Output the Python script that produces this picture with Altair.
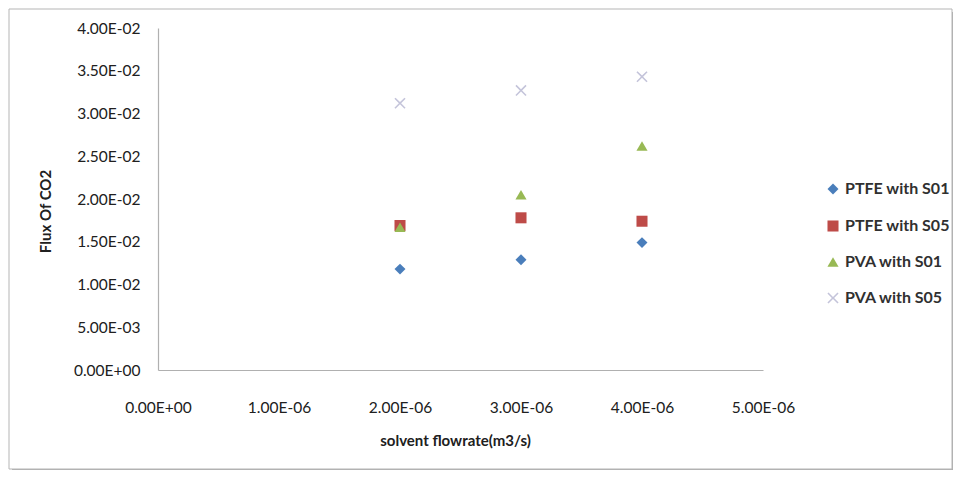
import altair as alt
import pandas as pd

# ---- data ----
flowrate = [2.0e-6, 3.0e-6, 4.0e-6]
series_names = ["PTFE with S01", "PTFE with S05", "PVA with S01", "PVA with S05"]
ptfe_s01 = [0.0118, 0.0129, 0.0149]
ptfe_s05 = [0.0169, 0.0178, 0.0174]
pva_s01 = [0.0167, 0.0205, 0.0262]
pva_s05 = [0.0312, 0.0327, 0.0343]

x_ticks = [0, 1e-6, 2e-6, 3e-6, 4e-6, 5e-6]
y_ticks = [0, 0.005, 0.01, 0.015, 0.02, 0.025, 0.03, 0.035, 0.04]

colors = ["#4A7EBB", "#BE4B48", "#98B954", "#C4C4DA"]
x_shape = "M-1,-0.8L-0.8,-1L0,-0.2L0.8,-1L1,-0.8L0.2,0L1,0.8L0.8,1L0,0.2L-0.8,1L-1,0.8L-0.2,0Z"
shapes = ["diamond", "square", "triangle-up", x_shape]
sizes = [120, 125, 150, 150]

rows = []
for name, vals in zip(series_names, [ptfe_s01, ptfe_s05, pva_s01, pva_s05]):
    for xv, yv in zip(flowrate, vals):
        rows.append({"flow": xv, "flux": yv, "series": name, "order": series_names.index(name)})
df = pd.DataFrame(rows)

sci = "replace(replace(upper(format(datum.value,'.2e')),'E-','E-0'),'E+','E+0')"
FONT = "Liberation Sans Narrow, Lato, sans-serif"

W, H = 605, 342

frame_df = pd.DataFrame({"k": [0]})
shadow = alt.Chart(frame_df).mark_rect(fill="#9a9a9a", opacity=0.8).encode(
    x=alt.value(-146), x2=alt.value(797), y=alt.value(-16), y2=alt.value(444)
)
frame = alt.Chart(frame_df).mark_rect(fill="white", stroke="#b5b5b5", strokeWidth=1).encode(
    x=alt.value(-149), x2=alt.value(794), y=alt.value(-19), y2=alt.value(441)
)

points = alt.Chart(df).mark_point(filled=True, opacity=1).encode(
    x=alt.X("flow:Q", scale=alt.Scale(domain=[0, 5e-6], nice=False),
            axis=alt.Axis(values=x_ticks, labelExpr=sci, title="solvent flowrate(m3/s)",
                          titleX=297, titleY=70, titleBaseline="middle", labelPadding=30,
                          labelFlush=False, zindex=1)),
    y=alt.Y("flux:Q", scale=alt.Scale(domain=[0, 0.04], nice=False),
            axis=alt.Axis(values=y_ticks, labelExpr=sci, title="Flux Of CO2",
                          titleX=-113, titleY=183, titleAlign="center", titleBaseline="middle",
                          labelPadding=18, labelFlush=False, zindex=1)),
    color=alt.Color("series:N", scale=alt.Scale(domain=series_names, range=colors),
                    legend=alt.Legend(title=None, orient="none", legendX=667, legendY=153,
                                      rowPadding=19, symbolSize=60, labelFontSize=16,
                                      labelColor="#303030", labelFont=FONT, labelFontWeight="bold",
                                      labelOffset=4, symbolOpacity=1, zindex=1)),
    shape=alt.Shape("series:N", scale=alt.Scale(domain=series_names, range=shapes)),
    size=alt.Size("series:N", scale=alt.Scale(domain=series_names, range=sizes), legend=None),
    order=alt.Order("order:Q"),
)

chart = alt.layer(shadow, frame, points).properties(
    width=W, height=H,
    autosize=alt.AutoSizeParams(type="none"),
    padding={"left": 150, "top": 20, "right": 190, "bottom": 100},
).configure_view(stroke=None).configure_axis(
    grid=False, ticks=False, domainColor="#b0b0b0", domainWidth=1.2,
    labelFont=FONT, labelFontSize=15.5, labelColor="#202020",
    titleFont=FONT, titleFontSize=15, titleFontWeight="bold", titleColor="#202020",
)

chart.save("out.html", embed_options={"renderer": "svg", "actions": False})
